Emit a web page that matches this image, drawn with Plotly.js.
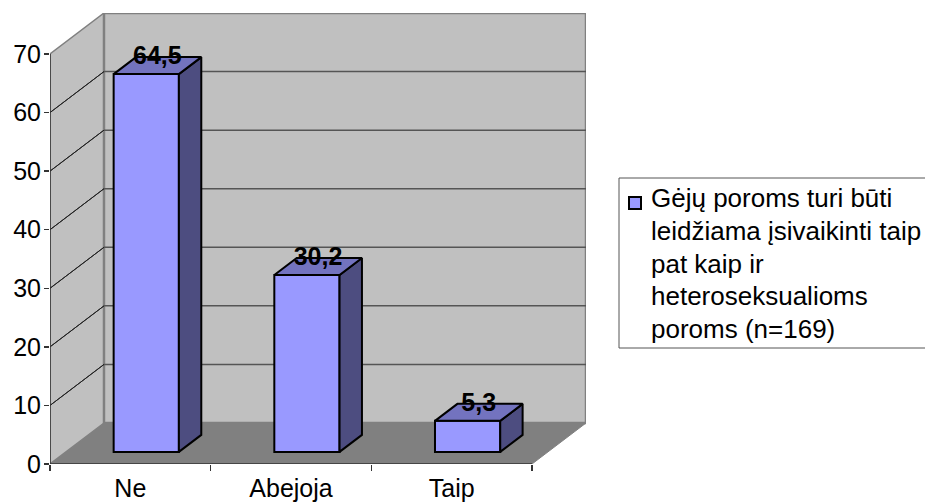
<!DOCTYPE html>
<html><head><meta charset="utf-8">
<script src="https://cdn.plot.ly/plotly-3.0.1.min.js"></script>
<style>html,body{margin:0;padding:0;background:#fff;overflow:hidden}</style>
</head><body><div id="chart" style="width:925px;height:504px"></div>
<script>
// Data
const categories = ["Ne", "Abejoja", "Taip"];
const values = [64.5, 30.2, 5.3];
const valueLabels = ["64,5", "30,2", "5,3"];
const yTicks = [0, 10, 20, 30, 40, 50, 60, 70];
const legendLines = ["Gėjų poroms turi būti", "leidžiama įsivaikinti taip", "pat kaip ir", "heteroseksualioms", "poroms (n=169)"];
const seriesName = "Gėjų poroms turi būti leidžiama įsivaikinti taip pat kaip ir heteroseksualioms poroms (n=169)";

// Oblique projection of the 3D box
const W = 925, H = 504, L = 50, R = 586, T = 13, B = 464;
const DX = 0.336, DY = 7, XMAX = 3.336, YMAX = 77;
const D0 = 0.295, D1 = 0.71, HALF = 0.203;
const FONT = "Liberation Sans, Arial, sans-serif";
const px = v => (v - L) / (R - L), py = v => (B - v) / (B - T);
const P = (x, y, d) => [x + DX * d, y + DY * d];
const poly = pts => "M" + pts.map(p => p.join(",")).join("L") + "Z";
const yTop = yTicks[yTicks.length - 1];

const shapes = [];
const addData = (path, fill, color, width) => shapes.push({type: "path", xref: "x", yref: "y", layer: "below", path, fillcolor: fill, line: {color, width}});
// floor, side wall, back wall
addData(poly([P(0,0,0), P(3,0,0), P(3,0,1), P(0,0,1)]), "#808080", "#808080", 1);
addData(poly([P(0,0,0), P(0,0,1), P(0,yTop,1), P(0,yTop,0)]), "#C0C0C0", "#808080", 1.5);
addData(poly([P(0,0,1), P(3,0,1), P(3,yTop,1), P(0,yTop,1)]), "#C0C0C0", "#808080", 2.5);
yTicks.slice(1, -1).forEach(t => {
  addData(poly([P(0,t,0), P(0,t,1)]), "rgba(0,0,0,0)", "#222222", 1);
  addData(poly([P(0,t,1), P(3,t,1)]), "rgba(0,0,0,0)", "#555555", 1.5);
});
// front axis lines
addData(poly([P(0,0,0), P(0,yTop,0)]), "rgba(0,0,0,0)", "#333333", 1.5);
addData(poly([P(0,0,0), P(3,0,0)]), "rgba(0,0,0,0)", "#333333", 1.5);
// legend box + swatch
shapes.push({type: "rect", xref: "paper", yref: "paper", layer: "below", x0: px(619), x1: px(930), y0: py(348), y1: py(178), fillcolor: "#ffffff", line: {color: "#555555", width: 1}});
shapes.push({type: "rect", xref: "paper", yref: "paper", x0: px(629), x1: px(641), y0: py(209), y1: py(197), fillcolor: "#9999FF", line: {color: "#000000", width: 2}});

const centers = categories.map((c, i) => i + 0.5);
const traces = [];
traces.push({type: "bar", x: centers.map(c => P(c, 0, D0)[0]), y: values, base: values.map(() => P(0, 0, D0)[1]), width: HALF * 2,
  marker: {color: "#9999FF", line: {color: "#000000", width: 2}}, name: seriesName, showlegend: false, hoverinfo: "skip"});
const edge = {color: "#000000", width: 2};
categories.forEach((c, i) => {
  const xc = centers[i], v = values[i], base = 0;
  const a = P(xc + HALF, base, D0), b = P(xc + HALF, base, D1), e = P(xc + HALF, v, D1), f = P(xc + HALF, v, D0);
  const g = P(xc - HALF, v, D0), h = P(xc - HALF, v, D1);
  traces.push({type: "scatter", mode: "lines", x: [a,b,e,f,a].map(p => p[0]), y: [a,b,e,f,a].map(p => p[1]), fill: "toself", fillcolor: "#4D4D80", line: edge, showlegend: false, hoverinfo: "skip", cliponaxis: false});
  traces.push({type: "scatter", mode: "lines", x: [g,f,e,h,g].map(p => p[0]), y: [g,f,e,h,g].map(p => p[1]), fill: "toself", fillcolor: "#7373BF", line: edge, showlegend: false, hoverinfo: "skip", cliponaxis: false});
});
const mid = values.map((v, i) => P(centers[i], v, 0.5));
traces.push({type: "scatter", mode: "text", x: mid.map(p => p[0]), y: mid.map(p => p[1] - 0.8), text: valueLabels, textposition: "top center",
  textfont: {family: FONT, size: 25, color: "#000000", weight: 700}, showlegend: false, hoverinfo: "skip", cliponaxis: false});

const annotations = legendLines.map((t, i) => ({xref: "paper", yref: "paper", x: px(650), y: py(198 + i * 32.8), xanchor: "left", yanchor: "middle", text: t, showarrow: false, align: "left", borderpad: 0,
  font: {family: FONT, size: 26, color: "#000000"}}));

const layout = {
  width: W, height: H, paper_bgcolor: "#ffffff", plot_bgcolor: "#ffffff",
  margin: {l: L, r: W - R, t: T, b: H - B, pad: 0}, showlegend: false, shapes, annotations,
  font: {family: FONT, size: 25, color: "#000000"},
  xaxis: {range: [0, XMAX], showgrid: false, zeroline: false, showline: false, tickmode: "array", tickvals: centers, ticktext: categories, ticks: "", tickfont: {size: 25, family: FONT}, ticklabelstandoff: 7,
    minor: {tickmode: "array", tickvals: [0,1,2,3], ticks: "outside", ticklen: 6, tickcolor: "#333333", tickwidth: 1.5, showgrid: false}},
  yaxis: {range: [0, YMAX], showgrid: false, zeroline: false, showline: false, tickmode: "array", tickvals: yTicks, ticks: "outside", ticklen: 5, tickcolor: "#333333", tickwidth: 1.5, ticklabelstandoff: -2, tickfont: {size: 25, family: FONT}}
};
Plotly.newPlot("chart", traces, layout, {displayModeBar: false, staticPlot: true});
</script></body></html>
